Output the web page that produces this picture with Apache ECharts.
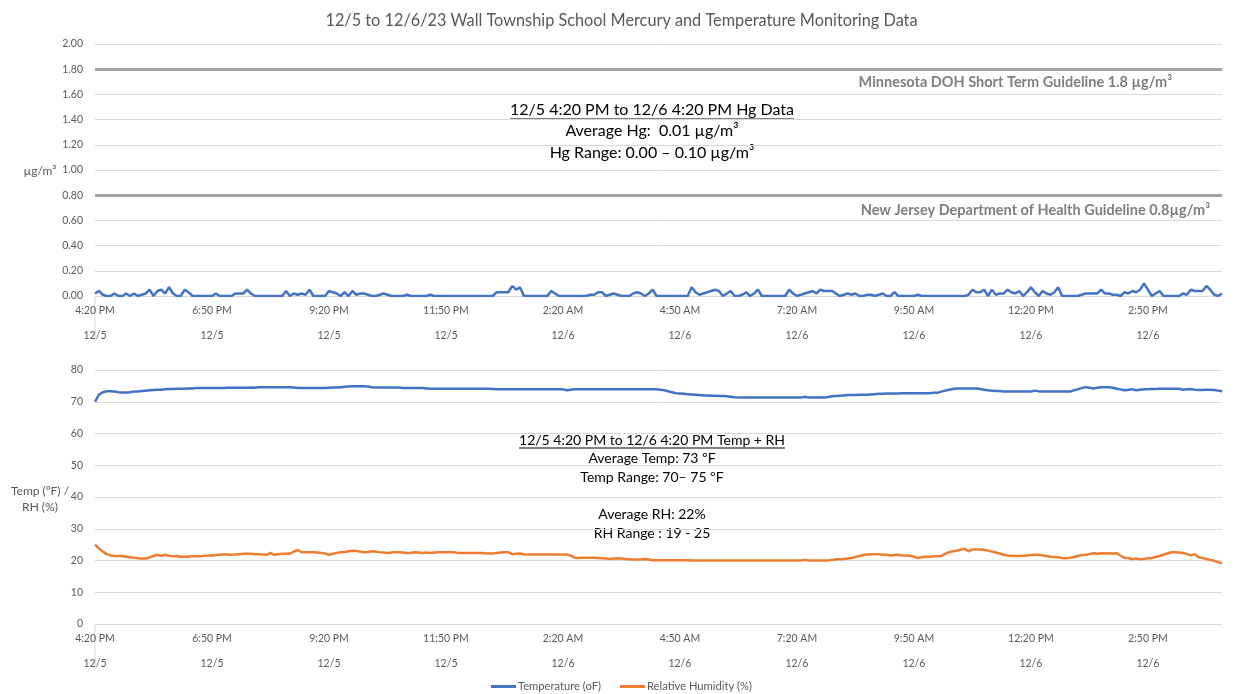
<!DOCTYPE html>
<html>
<head>
<meta charset="utf-8">
<script src="https://cdn.jsdelivr.net/npm/echarts@6/dist/echarts.min.js"></script>
<style>
  html, body { margin: 0; padding: 0; background: #fff; }
  #chart { width: 1243px; height: 694px; }
</style>
</head>
<body>
<div id="chart"></div>
<script>
// readings every 5 minutes, 12/5 4:20 PM -> 12/6 ~4:25 PM
const startMinute = 16 * 60 + 20;
const stepMinutes = 5;

const hgValues = [
  0.02,0.04,0.01,0,0,0.02,0,0,0.02,0,
  0.02,0,0.01,0.02,0.05,0,0.04,0.05,0.02,0.07,
  0.02,0,0,0.05,0.03,0,0,0,0,0,
  0,0.02,0,0,0,0,0.02,0.02,0.02,0.05,
  0.02,0,0,0,0,0,0,0,0,0.04,
  0,0.02,0.01,0.02,0.01,0.05,0,0,0,0,
  0.04,0.03,0.02,0,0.03,0,0.04,0.01,0.02,0.02,
  0.01,0,0,0.01,0.02,0.01,0,0,0,0,
  0.01,0,0,0,0,0,0.01,0,0,0,
  0,0,0,0,0,0,0,0,0,0,
  0,0,0,0.03,0.03,0.03,0.03,0.08,0.05,0.07,
  0,0,0,0,0,0,0,0.04,0.02,0,
  0,0,0,0,0,0,0,0.01,0.01,0.03,
  0.03,0,0.01,0.02,0.01,0,0,0,0.02,0.03,
  0.02,0,0.02,0.05,0,0,0,0,0,0,
  0,0,0,0.07,0.03,0.01,0.02,0.03,0.04,0.05,
  0.04,0,0.02,0.04,0,0,0.01,0.03,0,0.02,
  0.05,0,0,0,0,0,0,0,0.05,0.02,
  0,0.01,0.02,0.03,0.04,0.02,0.05,0.04,0.04,0.04,
  0.02,0,0.01,0.02,0.01,0.02,0,0,0.01,0.01,
  0,0.01,0.02,0,0,0.03,0,0,0,0,
  0,0.01,0,0,0,0,0,0,0,0,
  0,0,0,0,0.01,0.05,0.03,0.03,0.05,0,
  0.05,0.01,0.02,0.02,0.05,0.03,0.02,0.04,0,0.03,
  0.07,0.03,0,0.04,0.02,0.01,0.03,0.07,0,0,
  0,0,0,0.01,0.02,0.02,0.02,0.02,0.05,0.02,
  0.02,0.01,0.01,0,0.03,0.02,0.04,0.03,0.05,0.10,
  0.05,0,0.02,0.04,0,0,0,0,0,0.02,
  0.01,0.05,0.04,0.04,0.04,0.08,0.05,0.01,0,0.02
];

const tempValues = [
  70.0,72.2,73.0,73.3,73.3,73.2,73.0,72.9,72.9,73.0,
  73.2,73.2,73.4,73.5,73.6,73.7,73.8,73.8,73.9,74.0,
  74.0,74.1,74.1,74.1,74.2,74.2,74.3,74.3,74.3,74.3,
  74.3,74.3,74.3,74.3,74.4,74.4,74.4,74.4,74.4,74.4,
  74.5,74.4,74.6,74.6,74.6,74.6,74.6,74.6,74.6,74.6,
  74.6,74.5,74.3,74.3,74.3,74.3,74.3,74.3,74.3,74.3,
  74.4,74.5,74.5,74.6,74.7,74.8,74.9,74.9,74.9,74.9,
  74.8,74.6,74.5,74.5,74.5,74.5,74.5,74.5,74.5,74.3,
  74.3,74.3,74.3,74.3,74.3,74.2,74.1,74.1,74.1,74.1,
  74.1,74.1,74.1,74.1,74.1,74.1,74.1,74.1,74.1,74.1,
  74.1,74.1,74.0,73.9,73.9,73.9,73.9,73.9,73.9,73.9,
  73.9,73.9,73.9,73.9,73.9,73.9,73.9,73.9,73.9,73.9,
  73.9,73.6,73.8,73.9,73.9,73.9,73.9,73.9,73.9,73.9,
  73.9,73.9,73.9,73.9,73.9,73.9,73.9,73.9,73.9,73.9,
  73.9,73.9,73.9,73.9,73.9,73.8,73.6,73.3,73.0,72.7,
  72.6,72.5,72.4,72.3,72.2,72.1,72.0,72.0,71.9,71.9,
  71.8,71.8,71.7,71.6,71.4,71.3,71.3,71.3,71.3,71.3,
  71.3,71.3,71.3,71.3,71.3,71.3,71.3,71.3,71.3,71.3,
  71.3,71.3,71.6,71.3,71.3,71.3,71.3,71.3,71.5,71.7,
  71.8,71.9,72.0,72.1,72.1,72.1,72.2,72.2,72.2,72.3,
  72.4,72.5,72.5,72.6,72.6,72.6,72.6,72.7,72.7,72.7,
  72.7,72.7,72.7,72.7,72.7,72.8,72.8,73.2,73.5,73.8,
  74.0,74.2,74.2,74.2,74.2,74.2,74.2,74.0,73.8,73.6,
  73.5,73.4,73.4,73.2,73.2,73.2,73.2,73.2,73.2,73.2,
  73.2,73.5,73.3,73.2,73.2,73.2,73.2,73.2,73.2,73.2,
  73.2,73.6,73.9,74.3,74.6,74.4,74.2,74.4,74.6,74.6,
  74.6,74.4,74.1,73.9,73.6,73.8,73.9,73.6,73.8,73.9,
  73.9,74.0,74.0,74.1,74.1,74.1,74.1,74.1,74.1,73.8,
  73.9,74.0,73.8,73.7,73.7,73.8,73.8,73.7,73.5,73.3
];

const rhValues = [
  25.0,23.8,22.8,22.0,21.6,21.4,21.4,21.4,21.2,21.0,
  20.9,20.7,20.6,20.6,21.0,21.4,21.8,21.4,21.8,21.5,
  21.3,21.4,21.2,21.2,21.2,21.4,21.3,21.3,21.5,21.6,
  21.6,21.7,21.8,21.9,21.9,21.8,21.9,22.0,22.1,22.1,
  22.1,22.0,22.0,21.9,21.8,22.4,21.8,22.0,22.1,22.1,
  22.2,22.8,23.3,22.6,22.6,22.6,22.6,22.5,22.4,22.2,
  21.8,22.1,22.4,22.6,22.7,22.9,23.1,23.0,22.8,22.6,
  22.7,22.9,22.8,22.6,22.5,22.4,22.5,22.6,22.6,22.5,
  22.4,22.4,22.6,22.5,22.4,22.5,22.4,22.5,22.6,22.6,
  22.6,22.6,22.6,22.4,22.4,22.4,22.4,22.4,22.4,22.4,
  22.3,22.2,22.2,22.4,22.5,22.6,22.6,22.0,22.1,22.2,
  21.9,21.9,21.9,21.9,21.9,21.9,21.9,21.9,21.9,21.9,
  21.9,21.9,21.5,20.9,20.8,20.9,20.9,20.9,20.9,20.8,
  20.7,20.6,20.5,20.6,20.7,20.6,20.5,20.4,20.3,20.3,
  20.3,20.5,20.3,20.1,20.1,20.1,20.1,20.1,20.1,20.1,
  20.1,20.1,20.1,20.0,20.0,20.0,20.0,20.0,20.0,20.0,
  20.0,20.0,20.0,20.0,20.0,20.0,20.0,20.0,20.0,20.0,
  20.0,20.0,20.0,20.0,20.0,20.0,20.0,20.0,20.0,20.0,
  20.0,20.0,20.2,20.0,20.0,20.0,20.0,20.0,20.0,20.2,
  20.4,20.4,20.5,20.6,20.8,21.1,21.4,21.7,21.9,22.0,
  22.0,22.0,21.8,21.8,21.6,21.7,21.8,21.6,21.6,21.5,
  21.2,20.8,21.0,21.2,21.2,21.3,21.3,21.4,22.1,22.6,
  22.9,23.1,23.4,23.7,22.9,23.5,23.5,23.5,23.4,23.1,
  22.8,22.5,22.2,21.8,21.6,21.5,21.4,21.4,21.5,21.6,
  21.7,21.8,21.8,21.6,21.4,21.2,21.1,21.0,20.8,20.7,
  20.9,21.1,21.4,21.7,21.8,22.0,22.3,22.1,22.3,22.2,
  22.3,22.2,22.3,21.5,20.8,20.8,20.4,20.6,20.4,20.5,
  20.7,20.8,21.1,21.4,21.8,22.2,22.6,22.6,22.5,22.4,
  22.0,21.6,22.0,21.0,20.8,20.5,20.2,19.9,19.5,19.1
];

const guidelines = [1.8, 0.8];

// time + date label for each reading
const categories = [];
for (let i = 0; i < hgValues.length; i++) {
  const m = startMinute + i * stepMinutes;
  const day = m >= 1440 ? 6 : 5;
  const mm = m % 1440;
  let h = Math.floor(mm / 60);
  const min = mm % 60;
  const ap = h >= 12 ? 'PM' : 'AM';
  h = h % 12 === 0 ? 12 : h % 12;
  categories.push(h + ':' + (min < 10 ? '0' : '') + min + ' ' + ap + '\n12/' + day);
}

const FONT = 'Lato, "Liberation Sans", sans-serif';
const GREY = '#595959';
const BLUE = '#4472c4';
const ORANGE = '#ed7d31';

const chart = echarts.init(document.getElementById('chart'));

// width of a text, for the underlines
const ctx = document.createElement('canvas').getContext('2d');
function textWidth(str, font) {
  ctx.font = font;
  return ctx.measureText(str).width;
}

function xAxisFor(gridIndex) {
  return {
    type: 'category',
    gridIndex: gridIndex,
    data: categories,
    boundaryGap: false,
    axisLine: { lineStyle: { color: '#d9d9d9', width: 1 } },
    axisTick: { show: false },
    axisLabel: {
      interval: 29,
      color: GREY,
      fontSize: 10.5,
      fontFamily: FONT,
      lineHeight: 25,
      margin: 2
    },
    splitLine: { show: false }
  };
}

function textEl(x, y, str, size, opts) {
  opts = opts || {};
  return {
    type: 'text',
    x: x,
    y: y,
    silent: true,
    style: {
      text: str,
      fontSize: size,
      fontFamily: FONT,
      fontWeight: opts.bold ? 'bold' : 'normal',
      fill: opts.color || '#000',
      align: opts.align || 'center',
      verticalAlign: 'middle'
    }
  };
}

function underlined(x, y, str, size) {
  const w = textWidth(str, size + 'px ' + FONT);
  return [
    textEl(x, y, str, size),
    {
      type: 'line',
      silent: true,
      shape: { x1: x - w / 2, y1: y + size / 2 + 1, x2: x + w / 2, y2: y + size / 2 + 1 },
      style: { stroke: '#000', lineWidth: 1 }
    }
  ];
}

const graphics = [
  textEl(40, 171, 'µg/m³', 12, { color: GREY }),
  textEl(40, 491, 'Temp (ºF) /', 12, { color: GREY }),
  textEl(40, 507, 'RH (%)', 12, { color: GREY }),
  textEl(1172, 82, 'Minnesota DOH Short Term Guideline 1.8 µg/m³', 14.5, { bold: true, color: '#7f7f7f', align: 'right' }),
  textEl(1210, 210, 'New Jersey Department of Health Guideline 0.8µg/m³', 14.5, { bold: true, color: '#7f7f7f', align: 'right' }),
  ...underlined(652, 110, '12/5 4:20 PM to 12/6 4:20 PM Hg Data', 16),
  textEl(652, 131, 'Average Hg:  0.01 µg/m³', 16),
  textEl(652, 153, 'Hg Range: 0.00 – 0.10 µg/m³', 16),
  ...underlined(652, 440, '12/5 4:20 PM to 12/6 4:20 PM Temp + RH', 14),
  textEl(652, 458, 'Average Temp: 73 ºF', 14),
  textEl(652, 477, 'Temp Range: 70– 75 ºF', 14),
  textEl(652, 514, 'Average RH: 22%', 14),
  textEl(652, 533, 'RH Range : 19 - 25', 14),
  // separators at the left end of the two-level axis labels
  { type: 'line', silent: true, shape: { x1: 95, y1: 296, x2: 95, y2: 342 }, style: { stroke: '#d9d9d9', lineWidth: 1 } },
  { type: 'line', silent: true, shape: { x1: 95, y1: 624, x2: 95, y2: 670 }, style: { stroke: '#d9d9d9', lineWidth: 1 } }
];

const option = {
  animation: false,
  backgroundColor: '#fff',
  title: {
    text: '12/5 to 12/6/23 Wall Township School Mercury and Temperature Monitoring Data',
    left: 'center',
    top: 8,
    textStyle: { color: GREY, fontSize: 16.3, fontWeight: 'normal', fontFamily: FONT }
  },
  legend: {
    data: ['Temperature (oF)', 'Relative Humidity (%)'],
    top: 676,
    left: 'center',
    icon: 'rect',
    itemWidth: 25,
    itemHeight: 3,
    itemGap: 19,
    textStyle: { color: GREY, fontSize: 11.2, fontFamily: FONT, padding: [0, 0, 0, -3] }
  },
  grid: [
    { left: 95, right: 21, top: 44, height: 252 },
    { left: 95, right: 21, top: 370, height: 254 }
  ],
  xAxis: [xAxisFor(0), xAxisFor(1)],
  yAxis: [
    {
      type: 'value', gridIndex: 0, min: 0, max: 2, interval: 0.2,
      axisLine: { show: false }, axisTick: { show: false },
      axisLabel: { color: GREY, fontSize: 10.5, fontFamily: FONT, margin: 12, formatter: v => v.toFixed(2) },
      splitLine: { lineStyle: { color: '#d9d9d9', width: 1 } }
    },
    {
      type: 'value', gridIndex: 1, min: 0, max: 80, interval: 10,
      axisLine: { show: false }, axisTick: { show: false },
      axisLabel: { color: GREY, fontSize: 10.5, fontFamily: FONT, margin: 12 },
      splitLine: { lineStyle: { color: '#d9d9d9', width: 1 } }
    }
  ],
  series: [
    {
      name: 'Hg',
      type: 'line',
      xAxisIndex: 0, yAxisIndex: 0,
      data: hgValues,
      symbol: 'none',
      lineStyle: { color: BLUE, width: 2.5 },
      itemStyle: { color: BLUE },
      markLine: {
        silent: true,
        symbol: ['none', 'none'],
        label: { show: false },
        lineStyle: { color: '#a5a5a5', width: 3, type: 'solid' },
        data: guidelines.map(g => ({ yAxis: g }))
      },
      z: 3
    },
    {
      name: 'Temperature (oF)',
      type: 'line',
      xAxisIndex: 1, yAxisIndex: 1,
      data: tempValues,
      symbol: 'none',
      lineStyle: { color: BLUE, width: 2.5 },
      itemStyle: { color: BLUE }
    },
    {
      name: 'Relative Humidity (%)',
      type: 'line',
      xAxisIndex: 1, yAxisIndex: 1,
      data: rhValues,
      symbol: 'none',
      lineStyle: { color: ORANGE, width: 2.5 },
      itemStyle: { color: ORANGE }
    }
  ],
  graphic: graphics
};

chart.setOption(option);
</script>
</body>
</html>
